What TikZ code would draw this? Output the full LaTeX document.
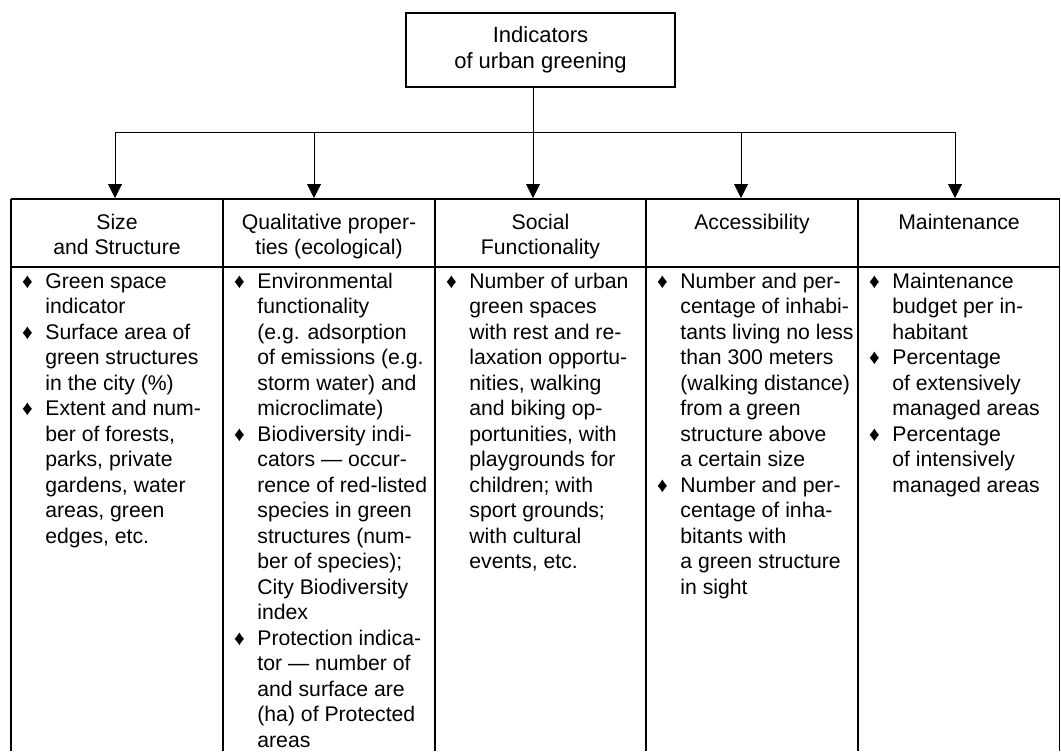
\documentclass[tikz,border=0pt]{standalone}
\usepackage{fontspec}
\setmainfont{Liberation Sans}
\usetikzlibrary{arrows.meta}
\newcommand\bul{\makebox[17pt][l]{\makebox[16pt]{\fontsize{10.5}{10.5}\selectfont ♦}}}
\newcommand\ind{\hspace*{17pt}}
\newcommand\colbody[1]{\begin{tabular}[t]{@{}l@{}}#1\end{tabular}}
\newcommand\colhead[1]{\begin{tabular}[t]{@{}c@{}}#1\end{tabular}}
\begin{document}
\begin{tikzpicture}[x=0.5pt,y=-0.5pt,
  txt/.style={font=\fontsize{10.6}{12.75}\selectfont, inner sep=0pt},
  rootbox/.style={txt, draw, line width=0.65pt, minimum width=134.5pt, minimum height=37pt, align=center},
  hdr/.style={txt, anchor=base},
  body/.style={txt, anchor=base west},
  conn/.style={line width=0.5pt},
  arr/.style={conn, -{Triangle[width=7pt,length=7pt]}},
  grid/.style={line width=0.85pt}]
\useasboundingbox (0,0) rectangle (1061,751);

% root
\node[rootbox, font=\fontsize{11}{13}\selectfont] (root) at (540.5,50) {Indicators\\of urban greening};

% connectors
\coordinate (bus) at (533,132);
\coordinate (a1) at (115,198);
\coordinate (a2) at (314,198);
\coordinate (a3) at (533,198);
\coordinate (a4) at (741,198);
\coordinate (a5) at (955,198);
\draw[conn] (root.south -| bus) -- (bus);
\foreach \i in {1,...,5} \draw[arr] (bus) -| (a\i);

% table grid
\draw[grid] (11,199) -- (1060,199);
\draw[grid] (11,267) -- (1060,267);
\foreach \x in {11,223,435,646,858,1059.6} \draw[grid] (\x,199) -- (\x,751);

% headers
\node[hdr] (h1) at (117,229) {\colhead{Size\\and Structure}};
\node[hdr] (h2) at (329,229) {\colhead{Qualitative proper-\\ties (ecological)}};
\node[hdr] (h3) at (540.5,229) {\colhead{Social\\Functionality}};
\node[hdr] (h4) at (752,229) {\colhead{Accessibility}};
\node[hdr] (h5) at (959,229) {\colhead{Maintenance}};

% bodies
\node[body] (b1) at (11,288) {\colbody{%
\bul Green space\\
\ind indicator\\
\bul Surface area of\\
\ind green structures\\
\ind in the city (\%)\\
\bul Extent and num-\\
\ind ber of forests,\\
\ind parks, private\\
\ind gardens, water\\
\ind areas, green\\
\ind edges, etc.}};

\node[body] (b2) at (223,288) {\colbody{%
\bul Environmental\\
\ind functionality\\
\ind (e.g. adsorption\\
\ind of emissions (e.g.\\
\ind storm water) and\\
\ind microclimate)\\
\bul Biodiversity indi-\\
\ind cators — occur-\\
\ind rence of red-listed\\
\ind species in green\\
\ind structures (num-\\
\ind ber of species);\\
\ind City Biodiversity\\
\ind index\\
\bul Protection indica-\\
\ind tor — number of\\
\ind and surface are\\
\ind (ha) of Protected\\
\ind areas}};

\node[body] (b3) at (435,288) {\colbody{%
\bul Number of urban\\
\ind green spaces\\
\ind with rest and re-\\
\ind laxation opportu-\\
\ind nities, walking\\
\ind and biking op-\\
\ind portunities, with\\
\ind playgrounds for\\
\ind children; with\\
\ind sport grounds;\\
\ind with cultural\\
\ind events, etc.}};

\node[body] (b4) at (646,288) {\colbody{%
\bul Number and per-\\
\ind centage of inhabi-\\
\ind tants living no less\\
\ind than 300 meters\\
\ind (walking distance)\\
\ind from a green\\
\ind structure above\\
\ind a certain size\\
\bul Number and per-\\
\ind centage of inha-\\
\ind bitants with\\
\ind a green structure\\
\ind in sight}};

\node[body] (b5) at (858,288) {\colbody{%
\bul Maintenance\\
\ind budget per in-\\
\ind habitant\\
\bul Percentage\\
\ind of extensively\\
\ind managed areas\\
\bul Percentage\\
\ind of intensively\\
\ind managed areas}};
\end{tikzpicture}
\end{document}
